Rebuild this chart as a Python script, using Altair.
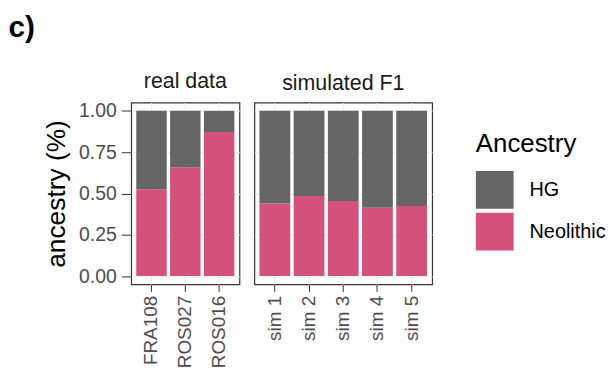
import altair as alt
import pandas as pd

real_samples = ["FRA108", "ROS027", "ROS016"]
real_neolithic = [0.526, 0.658, 0.872]
sim_samples = ["sim 1", "sim 2", "sim 3", "sim 4", "sim 5"]
sim_neolithic = [0.440, 0.484, 0.454, 0.414, 0.424]
ancestries = ["HG", "Neolithic"]
colors = ["#666666", "#D4517A"]
y_ticks = [0, 0.25, 0.5, 0.75, 1.0]
panel_titles = ["real data", "simulated F1"]

FONT = "Liberation Sans"


def make_df(samples, neo):
    rows = []
    for s, v in zip(samples, neo):
        rows.append({"sample": s, "Ancestry": "Neolithic", "value": v, "ord": 0})
        rows.append({"sample": s, "Ancestry": "HG", "value": 1 - v, "ord": 1})
    return pd.DataFrame(rows)


color = alt.Color(
    "Ancestry:N",
    scale=alt.Scale(domain=ancestries, range=colors),
    legend=alt.Legend(
        title="Ancestry",
        orient="none",
        legendX=347,
        legendY=29,
        offset=0,
        padding=0,
        symbolType="square",
        symbolSize=1444,
        symbolStrokeWidth=0,
        symbolOpacity=1,
        titleFontSize=26,
        titleFont=FONT,
        titleFontWeight="normal",
        titleColor="black",
        titlePadding=14,
        labelFontSize=20,
        labelFont=FONT,
        labelColor="black",
        labelOffset=16,
        rowPadding=4,
    ),
)


def panel(df, samples, width, title, show_y):
    if show_y:
        y_axis = alt.Axis(
            values=y_ticks, format=".2f", title="ancestry (%)",
            titleFontSize=26.5, titleFont=FONT, titleFontWeight="normal",
            titleColor="black", titlePadding=8,
            labelFontSize=19.5, labelFont=FONT, labelColor="#4D4D4D",
            tickColor="#333333", tickSize=10, labelPadding=5,
            grid=True, domain=False,
        )
    else:
        y_axis = alt.Axis(
            values=y_ticks, title=None, labels=False, ticks=False,
            grid=True, domain=False,
        )
    return alt.Chart(
        df,
        title=alt.Title(title, fontSize=21.5, font=FONT, fontWeight="normal",
                        color="#1A1A1A", anchor="middle", offset=8),
    ).mark_bar().encode(
        x=alt.X(
            "sample:N", sort=samples, title=None,
            scale=alt.Scale(paddingInner=0.1, paddingOuter=0.15),
            axis=alt.Axis(labelAngle=270, labelAlign="right", labelBaseline="middle",
                          labelFontSize=19, labelFont=FONT, labelColor="#4D4D4D",
                          tickColor="#333333", tickSize=7, labelPadding=4,
                          bandPosition=0.5, grid=True, domain=False),
        ),
        y=alt.Y(
            "value:Q", stack="zero",
            scale=alt.Scale(domain=[-0.05, 1.05], nice=False, zero=False),
            axis=y_axis,
        ),
        color=color,
        order=alt.Order("ord:Q"),
    ).properties(width=width, height=183)


left = panel(make_df(real_samples, real_neolithic), real_samples, 109, panel_titles[0], True)
right = panel(make_df(sim_samples, sim_neolithic), sim_samples, 179, panel_titles[1], False)

chart = alt.hconcat(left, right, spacing=13).resolve_scale(x="independent").properties(
    title=alt.Title("c)", fontSize=30, font=FONT, fontWeight="bold", color="black",
                    anchor="start", frame="bounds", dx=-35, offset=28),
    padding={"left": 0, "top": 4, "right": 0, "bottom": 0},
).configure_view(
    stroke="#333333", strokeWidth=1.2
).configure_axis(
    gridColor="#EBEBEB", gridWidth=1
)

chart.save("out.html", embed_options={"renderer": "svg", "actions": False})
